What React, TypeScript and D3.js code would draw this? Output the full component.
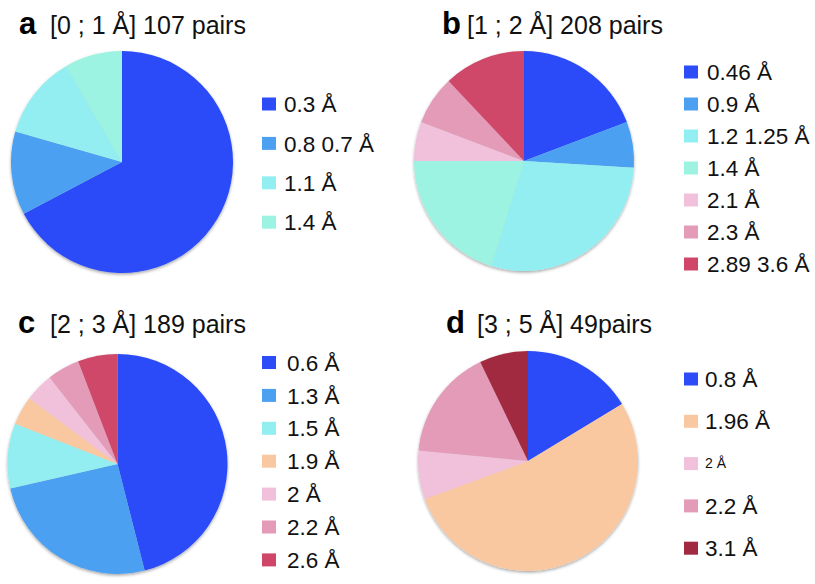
import React from "react";
import * as d3 from "d3";

const BLUE = "#2b4cf7";
const LBLUE = "#4ca0f1";
const CYAN = "#93eef1";
const MINT = "#9df3e1";
const LPINK = "#f1c0da";
const PINK = "#e49bb7";
const RED = "#cf4669";
const PEACH = "#f9c8a1";
const DRED = "#a12a40";

const aLabels = ["0.3 Å", "0.8 0.7 Å", "1.1 Å", "1.4 Å"];
const aValues = [72, 13, 13, 9];
const aColors = [BLUE, LBLUE, CYAN, MINT];

const bLabels = ["0.46 Å", "0.9 Å", "1.2 1.25 Å", "1.4 Å", "2.1 Å", "2.3 Å", "2.89 3.6 Å"];
const bValues = [40, 14, 60, 42, 12, 15, 25];
const bColors = [BLUE, LBLUE, CYAN, MINT, LPINK, PINK, RED];

const cLabels = ["0.6 Å", "1.3 Å", "1.5 Å", "1.9 Å", "2 Å", "2.2 Å", "2.6 Å"];
const cValues = [87, 48, 18, 8, 8, 9, 11];
const cColors = [BLUE, LBLUE, CYAN, PEACH, LPINK, PINK, RED];

const dLabels = ["0.8 Å", "1.96 Å", "2 Å", "2.2 Å", "3.1 Å"];
const dValues = [8, 26, 3.5, 8, 3.5];
const dColors = [BLUE, PEACH, LPINK, PINK, DRED];

const panelLetters = ["a", "b", "c", "d"];
const panelTitles = ["[0 ; 1 Å] 107 pairs", "[1 ; 2 Å] 208 pairs", "[2 ; 3 Å] 189 pairs", "[3 ; 5 Å] 49pairs"];

const FONT = "'Liberation Sans', Arial, Helvetica, sans-serif";

type PanelProps = {
  letter: string;
  title: string;
  labels: string[];
  values: number[];
  colors: string[];
  cx: number;
  cy: number;
  r: number;
  letterX: number;
  titleX: number;
  titleY: number;
  sqX: number;
  textX: number;
  legY0: number;
  legStep: number;
  smallIdx?: number;
};

function Panel(p: PanelProps) {
  const pie = d3.pie<number>().sort(null).value((d) => d);
  const arcs = pie(p.values);
  const arc = d3.arc<d3.PieArcDatum<number>>().innerRadius(0).outerRadius(p.r);
  const legY = d3.scaleLinear().domain([0, 1]).range([p.legY0, p.legY0 + p.legStep]);
  return (
    <g>
      <text x={p.letterX} y={p.titleY} fontFamily={FONT} fontWeight="bold" fontSize={31} fill="#000">
        {p.letter}
      </text>
      <text x={p.titleX} y={p.titleY} fontFamily={FONT} fontSize={25} fill="#111">
        {p.title}
      </text>
      <g transform={`translate(${p.cx},${p.cy})`} filter="url(#shadow)">
        {arcs.map((a, i) => (
          <path key={i} d={arc(a) || ""} fill={p.colors[i]} />
        ))}
      </g>
      {p.labels.map((l, i) => {
        const y = legY(i);
        const small = p.smallIdx === i;
        return (
          <g key={l + i}>
            <rect x={p.sqX} y={y - 6.5} width={14} height={13} fill={p.colors[i]} />
            <text
              x={p.textX}
              y={y}
              dy={small ? "0.33em" : "0.36em"}
              fontFamily={FONT}
              fontSize={small ? 14 : 22.5}
              fill="#111"
            >
              {l}
            </text>
          </g>
        );
      })}
    </g>
  );
}

export default function App() {
  return (
    <svg
      width={815}
      height={584}
      viewBox="0 0 815 584"
      style={{ position: "absolute", left: 0, top: 0, background: "#fff" }}
    >
      <defs>
        <filter id="shadow" x="-10%" y="-10%" width="120%" height="125%">
          <feDropShadow dx={0} dy={1.5} stdDeviation={1.6} floodColor="#000" floodOpacity={0.35} />
        </filter>
      </defs>
      <rect width={815} height={584} fill="#fff" />
      <Panel
        letter={panelLetters[0]}
        title={panelTitles[0]}
        labels={aLabels}
        values={aValues}
        colors={aColors}
        cx={122}
        cy={162}
        r={111}
        letterX={19}
        titleX={50}
        titleY={34}
        sqX={262}
        textX={284}
        legY0={104}
        legStep={39.4}
      />
      <Panel
        letter={panelLetters[1]}
        title={panelTitles[1]}
        labels={bLabels}
        values={bValues}
        colors={bColors}
        cx={524}
        cy={161}
        r={110}
        letterX={442}
        titleX={467}
        titleY={34}
        sqX={684}
        textX={707}
        legY0={72}
        legStep={32}
      />
      <Panel
        letter={panelLetters[2]}
        title={panelTitles[2]}
        labels={cLabels}
        values={cValues}
        colors={cColors}
        cx={117.5}
        cy={464}
        r={110}
        letterX={18}
        titleX={50}
        titleY={333}
        sqX={262}
        textX={287}
        legY0={362.5}
        legStep={32.9}
      />
      <Panel
        letter={panelLetters[3]}
        title={panelTitles[3]}
        labels={dLabels}
        values={dValues}
        colors={dColors}
        cx={528}
        cy={461}
        r={110}
        letterX={446}
        titleX={477}
        titleY={333}
        sqX={684}
        textX={705}
        legY0={379}
        legStep={42.3}
        smallIdx={2}
      />
    </svg>
  );
}
